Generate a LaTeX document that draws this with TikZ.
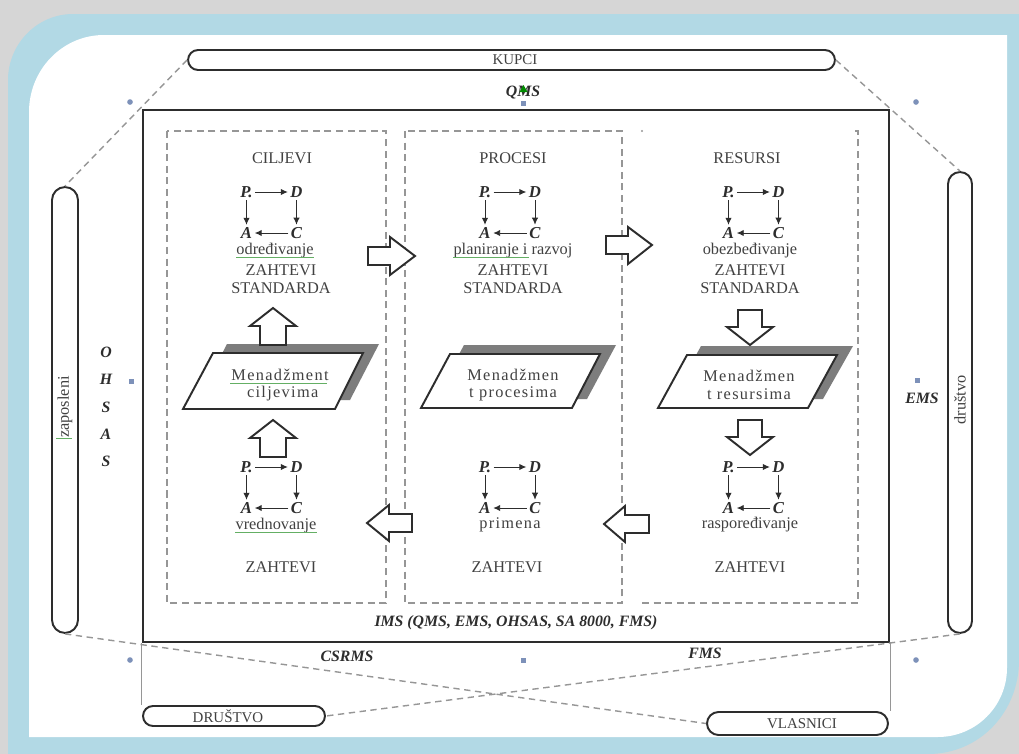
\documentclass[tikz,border=0pt]{standalone}
\usepackage{fontspec}
\setmainfont{Liberation Serif}
\newfontfamily\spacedfont{Liberation Serif}[LetterSpace=8]
\usetikzlibrary{arrows.meta,calc}

\definecolor{frameblue}{RGB}{178,217,229}
\definecolor{outergray}{RGB}{214,214,214}
\definecolor{ink}{RGB}{45,45,45}
\definecolor{txt}{RGB}{65,65,65}
\definecolor{dashgray}{RGB}{150,150,150}
\definecolor{handle}{RGB}{125,145,185}
\definecolor{spellgreen}{RGB}{100,175,100}
\definecolor{parashade}{RGB}{125,125,125}

\tikzset{
  lbl/.style={font=\fontsize{9.3}{10.5}\selectfont, text=txt, inner sep=0pt, align=center},
  spaced/.style={font=\spacedfont\fontsize{9.3}{10}\selectfont, text=txt, inner sep=0pt, align=center},
  emlbl/.style={font=\fontsize{9}{10}\selectfont\bfseries\itshape, text=ink, inner sep=0pt},
  pdl/.style={font=\fontsize{9.5}{10}\selectfont\bfseries\itshape, text=ink, inner sep=1.3pt},
  pdarr/.style={-{Latex[length=4pt,width=3.6pt]}, line width=0.55pt, draw=ink},
  stad/.style={draw=ink, line width=1.1pt, fill=white, inner sep=0pt},
  paneldash/.style={draw=dashgray, line width=0.7pt, dash pattern=on 4pt off 2.6pt},
  linkdash/.style={draw=dashgray, line width=0.8pt, dash pattern=on 3.6pt off 2.6pt},
  blockarr/.style={draw=ink, line width=1.1pt, fill=white, line join=miter},
  para/.style={draw=ink, line width=1.1pt, fill=white, line join=miter},
  spell/.style={draw=spellgreen, line width=0.5pt},
  pdca/.pic={
    \node[pdl] (-P) at (-25,-20.5) {P.};
    \node[pdl] (-D) at (25,-20.5) {D};
    \node[pdl] (-A) at (-25,20.5) {A};
    \node[pdl] (-C) at (25,20.5) {C};
    \draw[pdarr] (-P) -- (-D);
    \draw[pdarr] (-P) -- (-A);
    \draw[pdarr] (-D) -- (-C);
    \draw[pdarr] (-C) -- (-A);
  }
}

\begin{document}
\begin{tikzpicture}[x=0.02cm,y=-0.02cm]
\useasboundingbox (0,0) rectangle (1019,754);

% page frame: grey surround, light blue band, white sheet
\fill[outergray] (0,0) rectangle (1019,754);
\fill[frameblue] (8,754) -- (8,80) .. controls (8,44) and (37,14) .. (73,14)
  -- (1019,14) -- (1019,660) .. controls (1019,712) and (980,754) .. (928,754) -- cycle;
\fill[white] (29,737) -- (29,112) .. controls (29,70) and (62,35) .. (104,35)
  -- (1007,35) -- (1007,668) .. controls (1007,706) and (976,737) .. (938,737) -- cycle;

% stakeholders
\node[stad, rounded corners=0.2cm, minimum width=12.94cm, minimum height=0.40cm] (kupci) at (511.5,60) {};
\node[lbl, font=\fontsize{8.5}{9}\selectfont] (kupcit) at (515,60) {KUPCI};
\node[stad, rounded corners=0.26cm, minimum width=0.52cm, minimum height=8.92cm] (zap) at (65,410) {};
\node[lbl, rotate=90] (zapt) at (65,407) {zaposleni};
\node[stad, rounded corners=0.24cm, minimum width=0.48cm, minimum height=9.22cm] (drs) at (960,402.5) {};
\node[lbl, rotate=90] (drst) at (960,400) {društvo};
\node[stad, rounded corners=0.2cm, minimum width=3.64cm, minimum height=0.40cm] (drustvo) at (234,716) {};
\node[lbl, font=\fontsize{8.5}{9}\selectfont] (drustvot) at (228,716) {DRUŠTVO};
\node[stad, rounded corners=0.23cm, minimum width=3.62cm, minimum height=0.46cm] (vlas) at (797.5,723.5) {};
\node[lbl, font=\fontsize{8.5}{9}\selectfont] (vlast) at (802,724) {VLASNICI};
\draw[spell] ($(zapt.north west)+(-1,0)$) -- ($(zapt.south west)+(-1,0)$);

% main IMS frame
\node[draw=ink, line width=1.4pt, minimum width=14.92cm, minimum height=10.64cm, inner sep=0pt] (ims) at (516,376) {};

% dashed links between stakeholders
\draw[linkdash] (kupci.west) -- (zap.north);
\draw[linkdash] (kupci.east) -- (drs.north);
\draw[linkdash] (zap.south) -- (vlas.west);
\draw[linkdash] (drs.south) -- (drustvo.east);
\draw[dashgray, line width=0.6pt] (ims.south west) -- (ims.south west |- drustvo.north);
\draw[dashgray, line width=0.6pt] (ims.south east) -- (ims.south east |- vlas.north);

% system labels
\node[emlbl] (qms) at (523,93) {QMS};
\node[emlbl, align=center, font=\fontsize{9}{15.5}\selectfont\bfseries\itshape] (ohsas) at (106,407) {O\\H\\S\\A\\S};
\node[emlbl] (ems) at (922,398) {EMS};
\node[emlbl] (csrms) at (347,656) {CSRMS};
\node[emlbl] (fms) at (705,653) {FMS};
\node[emlbl] (imst) at (516,623) {IMS (QMS, EMS, OHSAS, SA 8000, FMS)};
\fill[green!55!black] (519.5,92) -- (523.5,85) -- (527.5,92) -- cycle;

% selection handles
\foreach \p in {(130,102),(916,102),(130,660),(916,660)}
  \fill[handle] \p circle[radius=1.6pt];
\foreach \p in {(523,103),(131,381),(917,380),(523,660)}
  \fill[handle] \p ++(-2.5,-2.5) rectangle ++(5,5);

% dashed panels
\draw[paneldash] (167,131) rectangle (386,603);
\draw[paneldash] (405,131) rectangle (622,603);
\draw[paneldash] (642,603) -- (858,603) -- (858,131) -- (851,131);
\fill[dashgray] (642,131) circle[radius=0.6pt];

% column headings
\node[lbl] (cilj) at (282,158) {CILJEVI};
\node[lbl] (proc) at (513,158) {PROCESI};
\node[lbl] (res) at (747,158) {RESURSI};

% PDCA cycles
\pic (pa) at (271.5,212.5) {pdca};
\pic (pb) at (510,212.5) {pdca};
\pic (pc) at (753.5,212.5) {pdca};
\pic (pd) at (271.5,487.5) {pdca};
\pic (pe) at (510,487.5) {pdca};
\pic (pf) at (753.5,487.5) {pdca};

% phase labels
\node[lbl] (odr) at (275,251) {određivanje};
\node[lbl] (plan) at (513,251) {planiranje i razvoj};
\node[lbl] (obez) at (750,251) {obezbeđivanje};
\node[lbl] (vred) at (276,526) {vrednovanje};
\node[spaced] (prim) at (510,525) {primena};
\node[lbl] (rasp) at (750,525) {raspoređivanje};
\draw[spell] ($(odr.base west)+(0,2.5)$) -- ($(odr.base east)+(0,2.5)$);
\draw[spell] ($(plan.base west)+(0,2.5)$) -- ($(plan.base west)+(76,2.5)$);
\draw[spell] ($(vred.base west)+(0,2.5)$) -- ($(vred.base east)+(0,2.5)$);

\node[lbl] (za) at (281,279) {ZAHTEVI\\STANDARDA};
\node[lbl] (zb) at (513,279) {ZAHTEVI\\STANDARDA};
\node[lbl] (zc) at (750,279) {ZAHTEVI\\STANDARDA};
\node[lbl] (zd) at (281,567) {ZAHTEVI};
\node[lbl] (ze) at (507,567) {ZAHTEVI};
\node[lbl] (zf) at (750,567) {ZAHTEVI};

% management parallelograms with shadow
\fill[parashade] (227,344) -- (379,344) -- (350,400) -- (198,400) -- cycle;
\draw[para] (183,409) -- (335,409) -- (363,353) -- (213,353) -- cycle;
\fill[parashade] (464,345) -- (616,345) -- (587,399) -- (435,399) -- cycle;
\draw[para] (421,408) -- (572,408) -- (600,354) -- (450,354) -- cycle;
\fill[parashade] (701,346) -- (853,346) -- (823,399) -- (672,399) -- cycle;
\draw[para] (658,408) -- (808,408) -- (837,355) -- (687,355) -- cycle;

\node[spaced] (menc) at (280,385) {Menadžment\\\ ciljevima};
\node[spaced] (menp) at (513,385) {Menadžmen\\t procesima};
\node[spaced] (menr) at (749,385) {Menadžmen\\t resursima};
\draw[spell] ($(menc.center)+(-50,-2)$) -- ($(menc.center)+(47,-2)$);

% block arrows between stages
\draw[blockarr] (368,247) -- (390,247) -- (390,237) -- (415,256) -- (390,275) -- (390,265) -- (368,265) -- cycle;
\draw[blockarr] (606,236) -- (628,236) -- (628,227) -- (652,245) -- (628,264) -- (628,254) -- (606,254) -- cycle;
\draw[blockarr] (260,345) -- (260,326) -- (250,326) -- (273,308) -- (296,326) -- (286,326) -- (286,345) -- cycle;
\draw[blockarr] (260,457) -- (260,438) -- (250,438) -- (273,420) -- (296,438) -- (286,438) -- (286,457) -- cycle;
\draw[blockarr] (738,310) -- (762,310) -- (762,327) -- (773,327) -- (750,345) -- (727,327) -- (738,327) -- cycle;
\draw[blockarr] (738,420) -- (762,420) -- (762,437) -- (773,437) -- (750,455) -- (727,437) -- (738,437) -- cycle;
\draw[blockarr] (649,515) -- (625,515) -- (625,506) -- (604,524) -- (625,542) -- (625,533) -- (649,533) -- cycle;
\draw[blockarr] (412,514) -- (389,514) -- (389,505) -- (367,523) -- (389,541) -- (389,532) -- (412,532) -- cycle;

\end{tikzpicture}
\end{document}
